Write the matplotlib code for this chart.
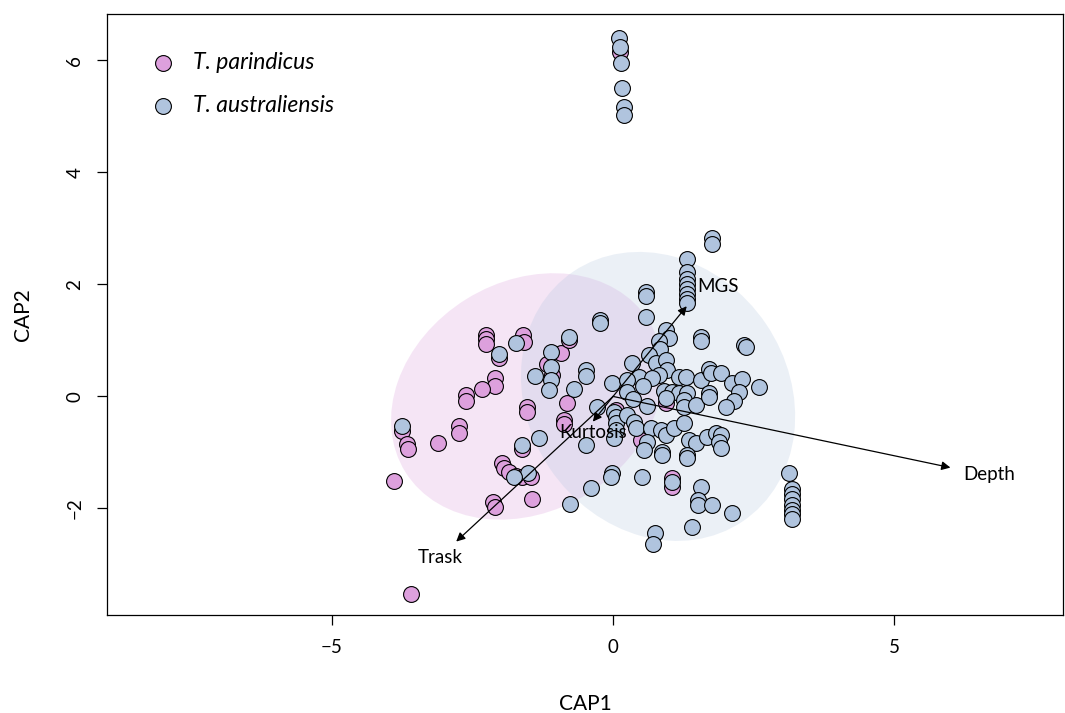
import matplotlib.pyplot as plt
import numpy as np
from matplotlib.patches import Ellipse

plt.rcParams['font.family'] = ['Lato', 'DejaVu Sans']

# CAP scores, T. parindicus
par_x = [-2.256, -2.256, -2.256, -1.599, -1.581, -2.025, -0.924, -1.172, -1.083, -0.782,
         -2.096, -2.096, -2.327, -2.611, -2.611, -3.748, -3.659, -3.641, -3.108, -2.735,
         -2.735, -1.528, -1.528, -0.817, -0.870, -0.870, -1.616, -1.972, -1.936, -1.847,
         -1.723, -1.616, -1.456, -3.890, -2.131, -2.096, -1.439, -3.588, 0.124, 0.497,
         0.941, 1.048, 1.048, 0.053]
par_y = [1.089, 1.018, 0.929, 1.089, 0.964, 0.679, 0.768, 0.571, 0.375, 1.000,
         0.321, 0.179, 0.125, 0.018, -0.089, -0.625, -0.857, -0.946, -0.839, -0.536,
         -0.661, -0.196, -0.286, -0.125, -0.429, -0.500, -0.946, -1.196, -1.286, -1.357,
         -1.429, -1.446, -1.446, -1.518, -1.893, -1.982, -1.839, -3.518, 6.143, -0.786,
         -0.125, -1.464, -1.625, -0.250]

# CAP scores, T. australiensis
aus_x = [0.107, 0.124, 0.142, 0.160, 0.195, 0.195, 1.758, 1.758,
         1.314, 1.314, 1.314, 1.314, 1.314, 1.314, 1.314, 1.314,
         0.586, 0.586, 0.586, -0.231, -0.231, -0.782, -1.723, -2.025,
         -1.101, -1.101, -1.101, -1.137, -1.385, -0.693, -0.480, -0.480, -0.018,
         -3.748, -1.314, -1.616, -0.480, -1.510, -1.758, -0.764, -0.391, -0.284,
         0.018, 0.053, 0.053, 0.053, 0.018, 0.249, 0.373, 0.409,
         0.675, 0.853, 0.941, 1.083, 1.261, 0.604, 0.551, 0.870, 0.870,
         1.350, 1.474, 1.670, 1.829, 1.918, 1.883, 1.918, 1.314, 1.314,
         -0.018, -0.036, 0.515, 1.048, 1.563, 1.510, 1.510, 1.758, 2.114,
         1.403, 0.746, 0.710, 3.126,
         3.179, 3.179, 3.179, 3.179, 3.179, 3.179, 3.179,
         2.593, 0.941, 0.995, 0.817, 0.835, 1.563, 1.563, 2.327, 2.362,
         0.639, 0.764, 0.941, 0.959, 0.337, 0.817, 0.462, 0.693, 0.249,
         0.533, 0.249, 0.355, 0.604, 0.906, 1.048, 1.172, 1.314, 1.261,
         1.261, 1.474, 1.172, 1.297, 1.563, 1.705, 1.741, 1.918, 2.114,
         2.291, 2.238, 2.149, 2.007, 1.705, 1.705, 0.941]
aus_y = [6.393, 6.232, 5.946, 5.500, 5.161, 5.018, 2.821, 2.714,
         2.446, 2.214, 2.089, 2.000, 1.911, 1.821, 1.732, 1.661,
         1.857, 1.786, 1.411, 1.357, 1.304, 1.054, 0.946, 0.750,
         0.786, 0.518, 0.286, 0.107, 0.357, 0.125, 0.464, 0.357, 0.232,
         -0.536, -0.750, -0.875, -0.875, -1.375, -1.446, -1.911, -1.643, -0.196,
         -0.286, -0.375, -0.482, -0.607, -0.750, -0.339, -0.464, -0.571,
         -0.571, -0.607, -0.696, -0.571, -0.482, -0.821, -0.964, -1.000, -1.054,
         -0.786, -0.839, -0.732, -0.661, -0.696, -0.821, -0.929, -1.054, -1.107,
         -1.375, -1.446, -1.446, -1.536, -1.625, -1.857, -1.946, -1.946, -2.089,
         -2.339, -2.446, -2.625, -1.375,
         -1.661, -1.750, -1.839, -1.929, -2.018, -2.107, -2.196,
         0.161, 1.179, 1.036, 0.982, 0.839, 1.054, 0.982, 0.911, 0.875,
         0.732, 0.589, 0.643, 0.464, 0.589, 0.375, 0.339, 0.321, 0.286,
         0.179, 0.071, -0.054, -0.179, 0.089, 0.071, 0.054, 0.054, -0.071,
         -0.196, -0.161, 0.339, 0.339, 0.286, 0.482, 0.411, 0.411, 0.232,
         0.304, 0.071, -0.089, -0.196, 0.054, -0.018, -0.036]

# environmental vectors
vec_names = ['MGS', 'Trask', 'Kurtosis', 'Depth']
vec_x = [1.31, -2.79, -0.36, 6.0]
vec_y = [1.61, -2.59, -0.45, -1.27]
lab_x = [1.49, -3.07, -0.36, 6.22]
lab_y = [1.96, -2.88, -0.64, -1.39]
lab_ha = ['left', 'center', 'center', 'left']

pink = '#DDA0DD'
blue = '#B0C4DE'

fig = plt.figure(figsize=(10.65, 7.13), dpi=100)
ax = fig.add_axes([0.1005, 0.1375, 0.8975, 0.8425])

# group ellipses
ax.add_patch(Ellipse((-1.53, 0.0), 5.1, 4.09, angle=32, facecolor=pink,
                     alpha=0.27, edgecolor='none', zorder=1))
ax.add_patch(Ellipse((0.8, 0.0), 5.38, 4.63, angle=-56, facecolor=blue,
                     alpha=0.25, edgecolor='none', zorder=1))

ax.scatter(par_x, par_y, s=130, c=pink, edgecolors='black', linewidths=0.8,
           zorder=2, label='T. parindicus')
ax.scatter(aus_x, aus_y, s=130, c=blue, edgecolors='black', linewidths=0.8,
           zorder=3, label='T. australiensis')

for i in range(len(vec_names)):
    ax.annotate('', xy=(vec_x[i], vec_y[i]), xytext=(0, 0),
                arrowprops=dict(arrowstyle='-|>', color='black', lw=0.9,
                                mutation_scale=13, shrinkA=0, shrinkB=0),
                zorder=4)
    ax.text(lab_x[i], lab_y[i], vec_names[i], ha=lab_ha[i], va='center',
            fontsize=13.5, zorder=5)

ax.set_xlim(-9, 8)
ax.set_ylim(-3.9, 6.82)
ax.set_xticks([-5, 0, 5])
ax.set_yticks([-2, 0, 2, 4, 6])
ax.tick_params(axis='both', labelsize=13.5, length=7, width=0.9, pad=10)
for lbl in ax.get_yticklabels():
    lbl.set_rotation(90)
    lbl.set_va('center')
for sp in ax.spines.values():
    sp.set_linewidth(0.9)

ax.set_xlabel('CAP1', fontsize=15, labelpad=28)
ax.set_ylabel('CAP2', fontsize=15, labelpad=24)

leg = ax.legend(loc='upper left', bbox_to_anchor=(0.047, 0.937), frameon=False,
                prop={'style': 'italic', 'size': 16.5}, borderpad=0,
                handlelength=1.0, handletextpad=0.8, borderaxespad=0,
                labelspacing=0.97, scatterpoints=1)

plt.savefig('out.png', dpi=100)
